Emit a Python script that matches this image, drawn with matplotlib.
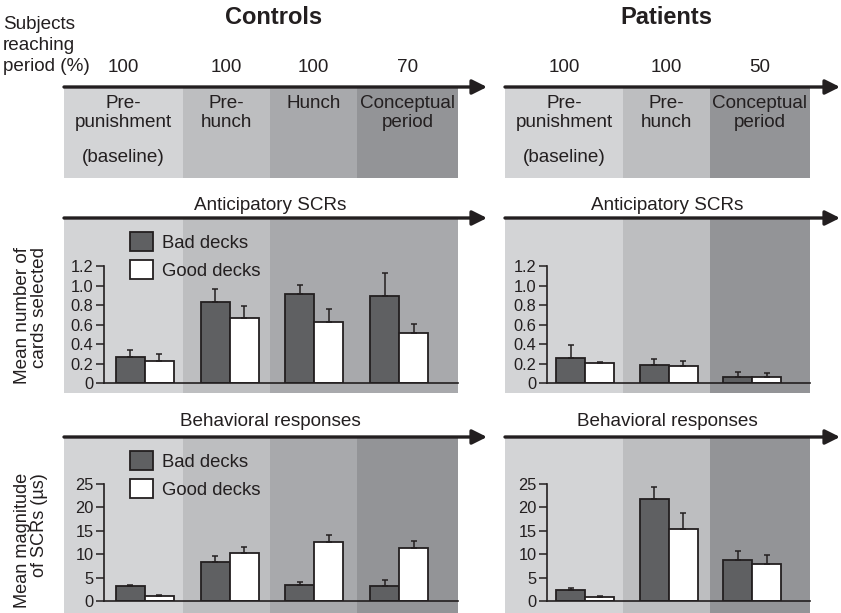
import numpy as np
import matplotlib
matplotlib.use("Agg")
import matplotlib.pyplot as plt
from matplotlib.patches import Rectangle, Patch

plt.rcParams['font.family'] = ['Liberation Sans', 'DejaVu Sans']
ink = '#231f20'

# data
ctrl_periods = ['Pre-\npunishment', 'Pre-\nhunch', 'Hunch', 'Conceptual\nperiod']
pat_periods = ['Pre-\npunishment', 'Pre-\nhunch', 'Conceptual\nperiod']
ctrl_pct = ['100', '100', '100', '70']
pat_pct = ['100', '100', '50']

ctrl_cards_bad = [0.27, 0.83, 0.91, 0.89]
ctrl_cards_bad_err = [0.07, 0.13, 0.10, 0.24]
ctrl_cards_good = [0.23, 0.67, 0.63, 0.51]
ctrl_cards_good_err = [0.07, 0.12, 0.13, 0.10]
pat_cards_bad = [0.26, 0.18, 0.06]
pat_cards_bad_err = [0.13, 0.07, 0.05]
pat_cards_good = [0.21, 0.17, 0.06]
pat_cards_good_err = [0.005, 0.06, 0.04]

ctrl_scr_bad = [3.3, 8.3, 3.4, 3.1]
ctrl_scr_bad_err = [0.15, 1.4, 0.7, 1.4]
ctrl_scr_good = [1.15, 10.2, 12.6, 11.4]
ctrl_scr_good_err = [0.15, 1.4, 1.4, 1.4]
pat_scr_bad = [2.3, 21.9, 8.7]
pat_scr_bad_err = [0.5, 2.5, 2.0]
pat_scr_good = [0.85, 15.3, 7.95]
pat_scr_good_err = [0.15, 3.4, 1.8]

shades = ['#d3d4d6', '#bdbec0', '#a8a9ac', '#939497']
bad_col = '#5f6062'

W, H = 841, 613
fig = plt.figure(figsize=(W / 100, H / 100), dpi=100)
bg = fig.add_axes([0, 0, 1, 1])
bg.set_xlim(0, W)
bg.set_ylim(H, 0)
bg.axis('off')

# column edges (pixels) for the two groups
ctrl_edges = [64, 183, 270, 357, 458]
pat_edges = [505, 623, 710, 810]


def bands(edges, cols, y0, y1):
    for i, c in enumerate(cols):
        bg.add_patch(Rectangle((edges[i], y0), edges[i + 1] - edges[i], y1 - y0,
                               facecolor=c, edgecolor='none', zorder=0))


def arrow(x0, x1, y):
    bg.annotate('', xy=(x1, y), xytext=(x0, y),
                arrowprops=dict(arrowstyle='-|>', lw=2.4, color=ink,
                                mutation_scale=22, shrinkA=0, shrinkB=0))


# header band
bands(ctrl_edges, shades, 88, 178)
bands(pat_edges, [shades[0], shades[1], shades[3]], 88, 178)
# anticipatory band
bands(ctrl_edges, [shades[0], shades[1], shades[2], shades[2]], 218, 393)
bands(pat_edges, [shades[0], shades[1], shades[3]], 218, 393)
# behavioral band
bands(ctrl_edges, shades, 437, H)
bands(pat_edges, [shades[0], shades[1], shades[3]], 437, H)

for y in [87, 218, 437]:
    arrow(64, 487, y)
    arrow(505, 840, y)

fs = 13.6
bg.text(274, 18, 'Controls', ha='center', va='center', fontsize=17, fontweight='bold', color=ink)
bg.text(666, 18, 'Patients', ha='center', va='center', fontsize=17, fontweight='bold', color=ink)
bg.text(3, 16, 'Subjects\nreaching\nperiod (%)', ha='left', va='top', fontsize=fs,
        linespacing=1.3, color=ink)

ctrl_cent = [(ctrl_edges[i] + ctrl_edges[i + 1]) / 2 for i in range(4)]
pat_cent = [(pat_edges[i] + pat_edges[i + 1]) / 2 for i in range(3)]
for cx, p, lab in zip(ctrl_cent, ctrl_pct, ctrl_periods):
    bg.text(cx, 68, p, ha='center', va='center', fontsize=fs, color=ink)
    bg.text(cx, 95, lab, ha='center', va='top', fontsize=fs, linespacing=1.15, color=ink)
for cx, p, lab in zip(pat_cent, pat_pct, pat_periods):
    bg.text(cx, 68, p, ha='center', va='center', fontsize=fs, color=ink)
    bg.text(cx, 95, lab, ha='center', va='top', fontsize=fs, linespacing=1.15, color=ink)
bg.text(ctrl_cent[0], 157, '(baseline)', ha='center', va='center', fontsize=fs, color=ink)
bg.text(pat_cent[0], 157, '(baseline)', ha='center', va='center', fontsize=fs, color=ink)

for x in [270, 667]:
    bg.text(x, 205, 'Anticipatory SCRs', ha='center', va='center', fontsize=fs, color=ink)
    bg.text(x, 422, 'Behavioral responses', ha='center', va='center', fontsize=fs, color=ink)

bg.text(31, 247, 'Mean number of\ncards selected', rotation=90, ha='center', va='top',
        multialignment='right', fontsize=fs, linespacing=1.0, color=ink)
bg.text(31, 473, 'Mean magnitude\nof SCRs (\u00b5s)', rotation=90, ha='center', va='top',
        multialignment='right', fontsize=13.1, linespacing=1.0, color=ink)


def data_axes(x0, x1, ybot, ytop):
    ax = fig.add_axes([x0 / W, 1 - ybot / H, (x1 - x0) / W, (ybot - ytop) / H])
    ax.patch.set_visible(False)
    for s in ['top', 'right']:
        ax.spines[s].set_visible(False)
    for s in ['left', 'bottom']:
        ax.spines[s].set_linewidth(1.2)
        ax.spines[s].set_color(ink)
    ax.set_xticks([])
    ax.tick_params(axis='y', direction='out', length=5.5, width=1.1, colors=ink,
                   labelsize=11.8, pad=2)
    return ax


def draw_bars(ax, bad, bad_err, good, good_err, w):
    x = np.arange(len(bad))
    ax.bar(x - w / 2, bad, w, color=bad_col, edgecolor=ink, lw=1.3, zorder=2)
    ax.bar(x + w / 2, good, w, color='white', edgecolor=ink, lw=1.3, zorder=2)
    ax.errorbar(x - w / 2, bad, yerr=[np.zeros(len(bad)), bad_err], fmt='none',
                ecolor=ink, elinewidth=1.1, capsize=2.2, capthick=1.1, zorder=3)
    ax.errorbar(x + w / 2, good, yerr=[np.zeros(len(good)), good_err], fmt='none',
                ecolor=ink, elinewidth=1.1, capsize=2.2, capthick=1.1, zorder=3)


# controls anticipatory
ax1 = data_axes(104, 458, 383, 383 - 1.3 * 97.5)
draw_bars(ax1, ctrl_cards_bad, ctrl_cards_bad_err, ctrl_cards_good, ctrl_cards_good_err, 0.342)
ax1.set_xlim(-0.481, 3.693)
ax1.set_ylim(0, 1.3)
ax1.set_yticks([0, 0.2, 0.4, 0.6, 0.8, 1.0, 1.2])
ax1.set_yticklabels(['0', '0.2', '0.4', '0.6', '0.8', '1.0', '1.2'])
ax1.spines['left'].set_bounds(0, 1.2)

# patients anticipatory
ax2 = data_axes(547, 810, 383, 383 - 1.3 * 97.5)
draw_bars(ax2, pat_cards_bad, pat_cards_bad_err, pat_cards_good, pat_cards_good_err, 0.347)
ax2.set_xlim(-0.457, 2.692)
ax2.set_ylim(0, 1.3)
ax2.set_yticks([0, 0.2, 0.4, 0.6, 0.8, 1.0, 1.2])
ax2.set_yticklabels(['0', '0.2', '0.4', '0.6', '0.8', '1.0', '1.2'])
ax2.spines['left'].set_bounds(0, 1.2)

# controls behavioral
ax3 = data_axes(104, 458, 601, 601 - 27 * 4.68)
draw_bars(ax3, ctrl_scr_bad, ctrl_scr_bad_err, ctrl_scr_good, ctrl_scr_good_err, 0.342)
ax3.set_xlim(-0.481, 3.693)
ax3.set_ylim(0, 27)
ax3.set_yticks([0, 5, 10, 15, 20, 25])
ax3.spines['left'].set_bounds(0, 25)

# patients behavioral
ax4 = data_axes(547, 810, 601, 601 - 27 * 4.68)
draw_bars(ax4, pat_scr_bad, pat_scr_bad_err, pat_scr_good, pat_scr_good_err, 0.347)
ax4.set_xlim(-0.457, 2.692)
ax4.set_ylim(0, 27)
ax4.set_yticks([0, 5, 10, 15, 20, 25])
ax4.spines['left'].set_bounds(0, 25)

handles = [Patch(facecolor=bad_col, edgecolor=ink, lw=1.3, label='Bad decks'),
           Patch(facecolor='white', edgecolor=ink, lw=1.3, label='Good decks')]
for ytop in [232, 451]:
    fig.legend(handles=handles, loc='upper left', bbox_to_anchor=(130 / W, 1 - ytop / H),
               bbox_transform=fig.transFigure, frameon=False, fontsize=13.3,
               handlelength=1.25, handleheight=1.2, handletextpad=0.5,
               labelspacing=0.45, borderpad=0, borderaxespad=0, labelcolor=ink)

fig.savefig('out.png', dpi=100)
